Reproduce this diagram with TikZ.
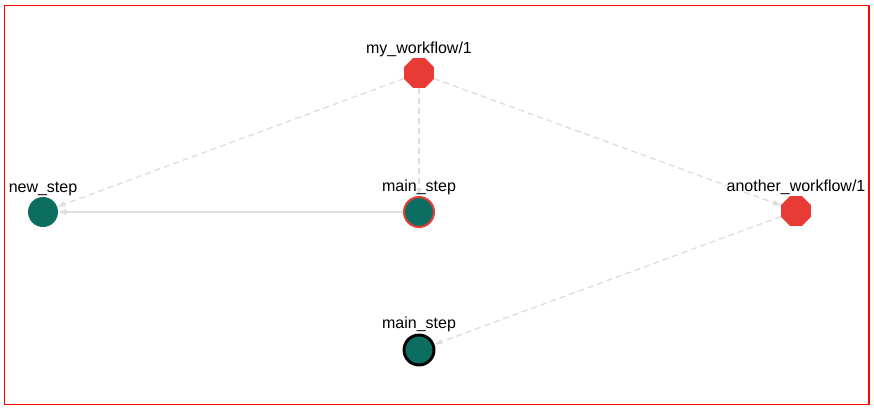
\documentclass[tikz,border=0pt]{standalone}
\usepackage{fontspec}
\setmainfont{Liberation Sans}
\usetikzlibrary{arrows,shapes.geometric,positioning}
\definecolor{wfred}{HTML}{E83B35}
\definecolor{stepgreen}{HTML}{0B6E61}
\definecolor{edgegray}{HTML}{DDDDDD}

\begin{document}
\begin{tikzpicture}[x=0.75pt,y=-0.75pt,
    workflow/.style={regular polygon, regular polygon sides=8, fill=wfred, inner sep=0pt, minimum size=24pt},
    stepnode/.style={circle, fill=stepgreen, inner sep=0pt, minimum size=22.5pt},
    tag/.style={font=\fontsize{12}{14}\selectfont, inner sep=0pt, text height=9pt, text depth=2.8pt},
    calls/.style={draw=edgegray, line width=1pt, dash pattern=on 4.5pt off 3pt, -latex},
    follows/.style={draw=edgegray, line width=1.1pt, -latex}]
                \useasboundingbox (0,0) rectangle (874,407);
                \draw[red, line width=1pt] (4.5,5.5) rectangle (869,404.5);

                \node[workflow] (MW) at (419,73) {};
                \node[stepnode, draw=wfred, line width=1.5pt] (MS) at (419,212) {};
                \node[stepnode] (NS) at (43,212) {};
                \node[workflow] (AW) at (796,211) {};
                \node[stepnode, draw=black, line width=2.2pt] (MS2) at (419,350) {};

                \draw[calls] (MW) -- (NS);
                \draw[calls] (MW) -- (MS);
                \draw[calls] (MW) -- (AW);
                \draw[follows] (MS) -- (NS);
                \draw[calls] (AW) -- (MS2);

                \node[tag, above=0.5pt of MW] (lMW) {my\_workflow/1};
                \node[tag, above=0.5pt of MS] (lMS) {main\_step};
                \node[tag, above=0.5pt of NS] (lNS) {new\_step};
                \node[tag, above=0.5pt of AW] (lAW) {another\_workflow/1};
                \node[tag, above=0.5pt of MS2] (lMS2) {main\_step};
            \end{tikzpicture}
\end{document}
